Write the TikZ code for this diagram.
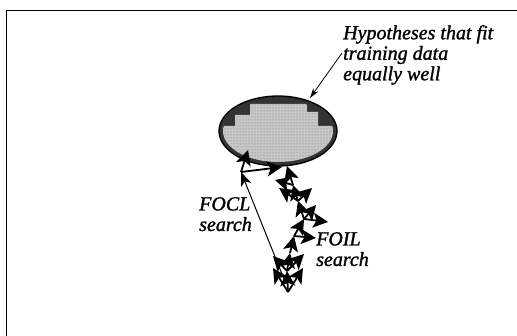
\documentclass[tikz,border=0pt]{standalone}
\usepackage{fontspec}
\setmainfont{Liberation Serif}[ItalicFeatures={FakeBold=1.3}]
\usetikzlibrary{arrows.meta,patterns}
\begin{document}
\begin{tikzpicture}[x=1pt,y=-1pt,
  lbl/.style={font=\itshape\fontsize{20}{20.5}\selectfont,align=left,inner sep=0pt},
  srch/.style={line width=1.8pt,-{Stealth[length=15pt,width=15pt,inset=3.5pt]}},
  thin arr/.style={line width=1pt,-{Stealth[length=14pt,width=11pt,inset=4pt]}}]
\useasboundingbox (0,0) rectangle (517,336);
% frame
\draw[line width=0.8pt] (6,336) -- (6,10) -- (517,10);
% hypothesis region
\coordinate (c) at (278,131);
\fill[black!80] (c) ellipse [x radius=59, y radius=35];
\begin{scope}
  \clip (c) ellipse [x radius=55, y radius=31];
  \fill[black!22] (250,104) -- (307,104) -- (307,112) -- (318,112) -- (318,126) -- (330,126)
     -- (336,126) -- (336,150) -- (330,150) -- (330,158) -- (318,158) -- (318,168)
     -- (230,168) -- (230,160) -- (218,160) -- (218,126) -- (224,126)
     -- (235,126) -- (235,115) -- (250,115) -- cycle;
  \fill[pattern=dots,pattern color=black!55] (250,104) -- (307,104) -- (307,112) -- (318,112) -- (318,126) -- (330,126)
     -- (336,126) -- (336,150) -- (330,150) -- (330,158) -- (318,158) -- (318,168)
     -- (230,168) -- (230,160) -- (218,160) -- (218,126) -- (224,126)
     -- (235,126) -- (235,115) -- (250,115) -- cycle;
\end{scope}
\draw[line width=1.3pt] (c) ellipse [x radius=59, y radius=35];
% label
\node[lbl,anchor=north west] (hyp) at (343,25) {Hypotheses that fit\\training data\\equally well};
\coordinate (hypend) at (310,98);
\coordinate (hypstart) at (342,53);
\draw[line width=0.8pt,-{Stealth[length=10pt,width=6pt]}] (hypstart) -- (hypend);
% FOCL search
\coordinate (r0) at (286,284);
\coordinate (r1) at (241,172);
\coordinate (r2) at (248,150);
\coordinate (r3) at (282,167);
\draw[thin arr] (r0) -- (r1);
\draw[srch] (r1) -- (r2);
\draw[srch] (r1) -- (r3);
\node[lbl,anchor=north west] (focl) at (199,197) {FOCL\\search};
% FOIL search
\coordinate (f0) at (288,292);
\coordinate (f1) at (287,271);
\coordinate (f2) at (290,253);
\coordinate (f3) at (294,236);
\coordinate (f4) at (304,219);
\coordinate (f5) at (298,201);
\coordinate (f6) at (293,185);
\coordinate (f7) at (287,166);
\coordinate (b0) at (303,268);
\coordinate (b1) at (273,256);
\coordinate (b2) at (304,254);
\coordinate (b3) at (316,238);
\coordinate (b4) at (328,222);
\coordinate (b5) at (316,205);
\coordinate (b6) at (312,188);
\coordinate (b7) at (275,180);
\coordinate (b8) at (279,188);
\coordinate (b9) at (273,268);
\foreach \a/\b in {f0/f1,f1/f2,f2/f3,f3/f4,f4/f5,f5/f6,f6/f7,f0/b0,f0/b9,f1/b1,f1/b2,f3/b3,f4/b4,f4/b5,f5/b6,f6/b7,f5/b8}
  \draw[srch] (\a) -- (\b);
\node[lbl,anchor=north west] (foil) at (316,232) {FOIL\\search};
\end{tikzpicture}
\end{document}
